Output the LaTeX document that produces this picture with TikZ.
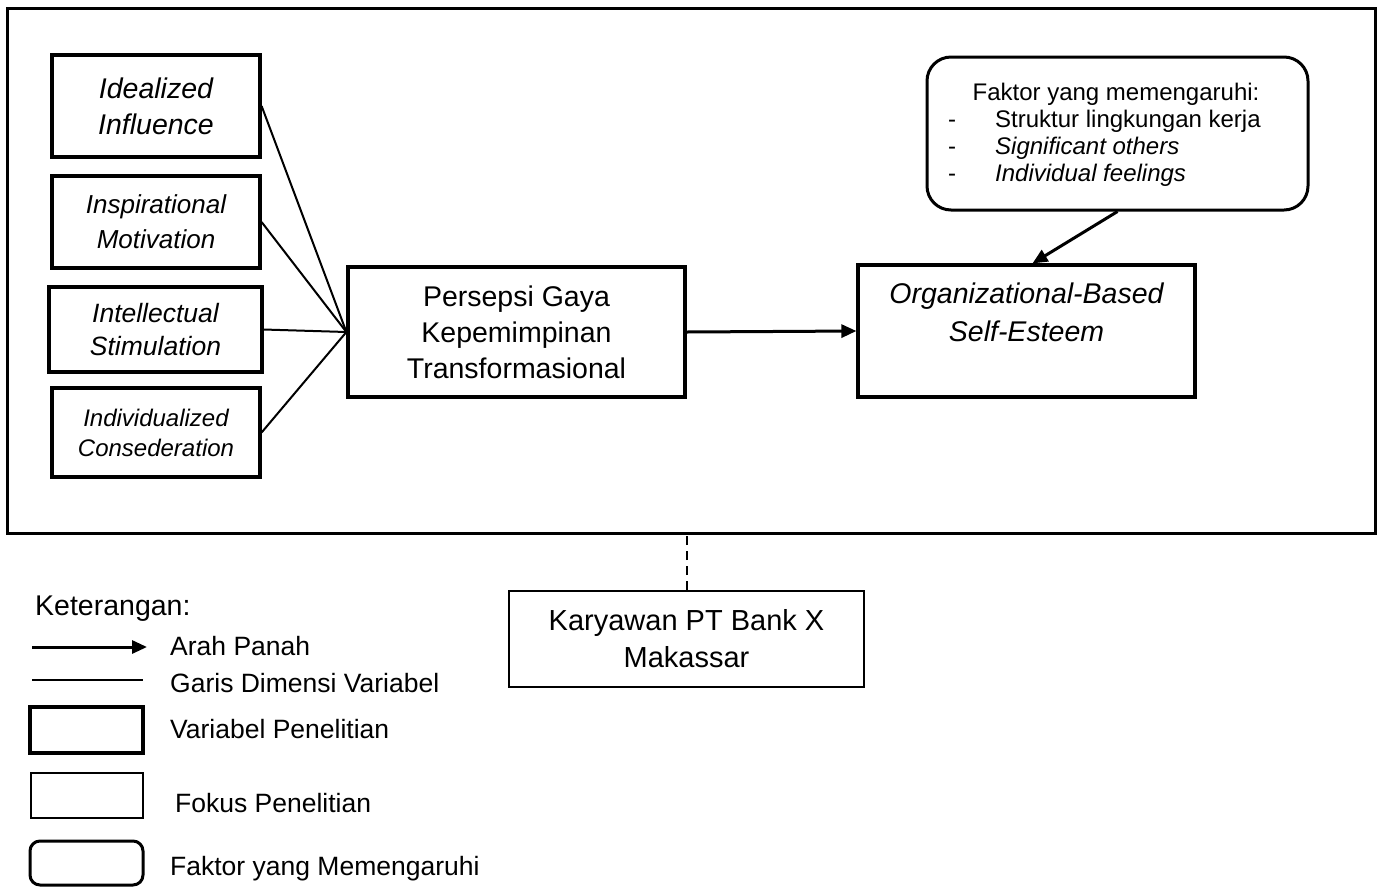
\documentclass[tikz,border=0pt]{standalone}
\usepackage{fontspec}
\setmainfont{Liberation Sans}
\usetikzlibrary{arrows.meta}
\newcommand\myfs[2]{\fontsize{#1}{#2}\selectfont}
\begin{document}
\begin{tikzpicture}[x=1pt,y=-1pt,
  varbox/.style={draw, line width=3.2pt, inner sep=0pt, align=center},
  focusbox/.style={draw, line width=1.8pt, inner sep=0pt, align=center},
  factorbox/.style={draw, line width=3pt, rounded corners=24pt, inner sep=0pt},
  dimline/.style={line width=2pt},
  mainarrow/.style={line width=3pt, -{Triangle[length=15pt,width=13pt]}},
  lbl/.style={anchor=base west, inner sep=0pt, font=\myfs{26.5}{30}}
]
\useasboundingbox (0,0) rectangle (1384,887);

% outer frame
\node[draw, line width=3pt, minimum width=1368pt, minimum height=525pt, inner sep=0pt] (frame) at (691,270.5) {};

% dimension boxes
\node[varbox, minimum width=208pt, minimum height=102pt, font=\myfs{28.5}{36}\itshape] (idi) at (156,106) {Idealized\\Influence};
\node[varbox, minimum width=208pt, minimum height=92pt, font=\myfs{26}{35}\itshape] (ins) at (156,222) {Inspirational\\Motivation};
\node[varbox, minimum width=213pt, minimum height=85pt, font=\myfs{26.5}{33}\itshape] (int) at (155.5,329.5) {Intellectual\\Stimulation};
\node[varbox, minimum width=208pt, minimum height=89pt, font=\myfs{24}{30}\itshape] (ind) at (156,432.5) {Individualized\\Consederation};

% main variables
\node[varbox, minimum width=337pt, minimum height=130pt, font=\myfs{28.5}{36}] (per) at (516.5,332) {Persepsi Gaya\\Kepemimpinan\\Transformasional};
\node[varbox, minimum width=337pt, minimum height=132pt, font=\myfs{28.5}{38}\itshape] (obse) at (1026.5,331) {Organizational-Based\\Self-Esteem\\~};

% factor box
\node[factorbox, minimum width=381pt, minimum height=153pt] (fak) at (1117.5,133.5) {};
\node[anchor=base, inner sep=0pt, font=\myfs{24}{27}] (faktitle) at (1116,100) {Faktor yang memengaruhi:};
\node[anchor=base west, inner sep=0pt, font=\myfs{24}{27}] (d1) at (948,127) {-};
\node[anchor=base west, inner sep=0pt, font=\myfs{24}{27}] (d2) at (948,154) {-};
\node[anchor=base west, inner sep=0pt, font=\myfs{24}{27}] (d3) at (948,181) {-};
\node[anchor=base west, inner sep=0pt, font=\myfs{24}{27}] (f1) at (995,127) {Struktur lingkungan kerja};
\node[anchor=base west, inner sep=0pt, font=\myfs{24}{27}\itshape] (f2) at (995,154) {Significant others};
\node[anchor=base west, inner sep=0pt, font=\myfs{24}{27}\itshape] (f3) at (995,181) {Individual feelings};

% focus box
\node[focusbox, minimum width=355pt, minimum height=96pt, font=\myfs{29}{37}] (kar) at (686.5,639) {Karyawan PT Bank X\\Makassar};

% connectors
\draw[dimline] (idi.east) -- (per.west);
\draw[dimline] (ins.east) -- (per.west);
\draw[dimline] (int.east) -- (per.west);
\draw[dimline] (ind.east) -- (per.west);
\draw[mainarrow] (per.east) -- (obse.west);
\draw[mainarrow] (fak.south) -- ([xshift=6pt]obse.north);
\draw[line width=2pt, dash pattern=on 9pt off 6pt] (kar.north) -- (kar.north |- frame.south);

% legend
\node[anchor=base west, inner sep=0pt, font=\myfs{28.5}{30}] (ket) at (35,615) {Keterangan:};
\coordinate (la1) at (32,647);
\coordinate (la2) at (147,647);
\draw[mainarrow] (la1) -- (la2);
\node[lbl] (larah) at (170,655) {Arah Panah};
\coordinate (lg1) at (32,680);
\coordinate (lg2) at (143,680);
\draw[dimline] (lg1) -- (lg2);
\node[lbl] (lgaris) at (170,692) {Garis Dimensi Variabel};
\node[draw, line width=3.6pt, minimum width=113pt, minimum height=46pt, inner sep=0pt] (lvar) at (86.5,730) {};
\node[lbl] (lvart) at (170,738) {Variabel Penelitian};
\node[draw, line width=2pt, minimum width=112pt, minimum height=45pt, inner sep=0pt] (lfok) at (87,795.5) {};
\node[lbl] (lfokt) at (175,812) {Fokus Penelitian};
\node[draw, line width=3pt, rounded corners=10pt, minimum width=113pt, minimum height=44pt, inner sep=0pt] (lfak) at (86.5,863) {};
\node[lbl] (lfakt) at (170,875) {Faktor yang Memengaruhi};
\end{tikzpicture}
\end{document}
